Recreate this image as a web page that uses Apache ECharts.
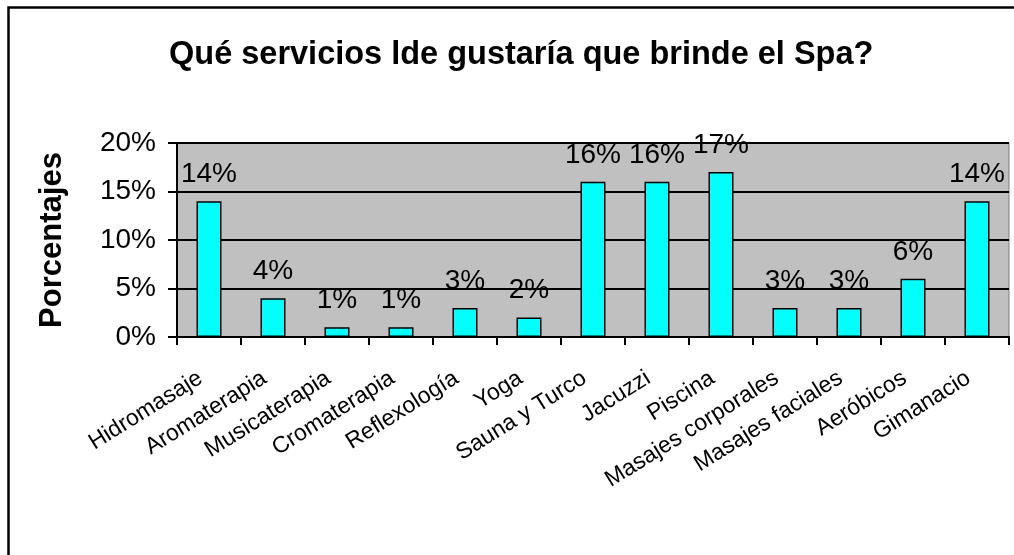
<!DOCTYPE html>
<html>
<head>
<meta charset="utf-8">
<script src="https://cdn.jsdelivr.net/npm/echarts@6/dist/echarts.min.js"></script>
<style>
html,body{margin:0;padding:0;background:#fff;}
#c{width:1014px;height:555px;}
</style>
</head>
<body>
<div id="c"></div>
<script>
const titleText = 'Qué servicios lde gustaría que brinde el Spa?';
const yAxisName = 'Porcentajes';
const categories = ['Hidromasaje','Aromaterapia','Musicaterapia','Cromaterapia','Reflexología','Yoga','Sauna y Turco','Jacuzzi','Piscina','Masajes corporales','Masajes faciales','Aeróbicos','Gimanacio'];
const values = [14,4,1,1,3,2,16,16,17,3,3,6,14];
const yTicks = [0,5,10,15,20];

const font = '"Liberation Sans", Arial, sans-serif';
const chart = echarts.init(document.getElementById('c'), null, {renderer:'canvas'});
chart.setOption({
  animation:false,
  backgroundColor:'#fff',
  title:{
    text:titleText, left:164, top:34,
    textStyle:{fontFamily:font, fontWeight:'bold', fontSize:32.5, color:'#000'}
  },
  graphic:[{
    type:'rect', shape:{x:8.5,y:7.5,width:1100,height:700},
    style:{fill:'none', stroke:'#000', lineWidth:2.5}, silent:true
  }],
  grid:{left:177, right:5, top:143, bottom:555-337, show:true, backgroundColor:'#C0C0C0', borderColor:'#808080', borderWidth:1, containLabel:false},
  xAxis:{
    type:'category', data:categories,
    axisLine:{lineStyle:{color:'#000', width:2}},
    axisTick:{show:true, length:8, lineStyle:{color:'#000', width:2}},
    axisLabel:{rotate:32, margin:34, padding:[0,10,0,0], fontFamily:font, fontSize:23, color:'#000', interval:0}
  },
  yAxis:{
    type:'value', min:yTicks[0], max:yTicks[yTicks.length-1], interval:5,
    name:yAxisName, nameLocation:'middle', nameGap:109, nameRotate:90,
    nameTextStyle:{fontFamily:font, fontWeight:'bold', fontSize:31, color:'#000'},
    axisLine:{show:true, lineStyle:{color:'#000', width:2}},
    axisTick:{show:true, length:9, lineStyle:{color:'#000', width:2}},
    axisLabel:{formatter:'{value}%', margin:21, fontFamily:font, fontSize:28, color:'#000'},
    splitLine:{show:true, lineStyle:{color:'#000', width:2}}
  },
  series:[{
    type:'bar', data:values, barWidth:25,
    itemStyle:{color:'#00FFFF', borderColor:'#000', borderWidth:1.5},
    label:{show:true, position:'top', distance:13, formatter:'{c}%', fontFamily:font, fontSize:28, color:'#000'}
  }]
});
</script>
</body>
</html>
